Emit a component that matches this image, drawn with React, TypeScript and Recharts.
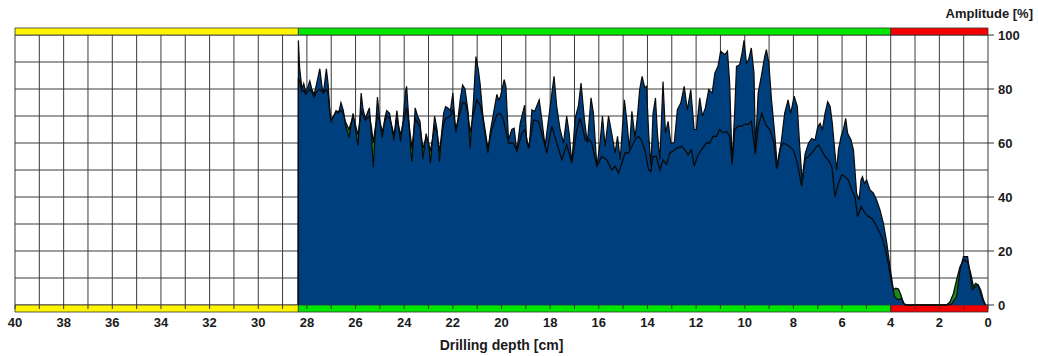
import { ComposedChart, Area, Line, XAxis, YAxis, CartesianGrid, ReferenceArea } from "recharts"

// drilling amplitude (blue), depth in cm
const ampDepth = [
  28.36, 28.35, 28.3, 28.25, 28.2, 28.13, 28.05, 27.95, 27.88, 27.8, 27.7, 27.6, 27.53, 27.47, 27.38, 27.32, 27.2, 27.13,
  27.05, 27.0, 26.9, 26.8, 26.7, 26.6, 26.5, 26.42, 26.33, 26.27, 26.2, 26.1, 26.0, 25.9, 25.82, 25.77, 25.7, 25.6, 25.5,
  25.43, 25.35, 25.27, 25.2, 25.1, 25.0, 24.9, 24.8, 24.72, 24.6, 24.5, 24.42, 24.35, 24.3, 24.2, 24.15, 24.05, 23.95,
  23.9, 23.82, 23.72, 23.68, 23.6, 23.55, 23.45, 23.35, 23.28, 23.23, 23.15, 23.1, 23.0, 22.92, 22.85, 22.75, 22.65,
  22.55, 22.48, 22.38, 22.3, 22.2, 22.1, 22.0, 21.88, 21.8, 21.7, 21.6, 21.5, 21.38, 21.29, 21.15, 21.05, 20.95, 20.88,
  20.74, 20.56, 20.47, 20.33, 20.19, 20.12, 20.05, 19.89, 19.82, 19.71, 19.58, 19.48, 19.37, 19.23, 19.05, 18.96, 18.86,
  18.75, 18.64, 18.45, 18.34, 18.21, 18.07, 17.84, 17.73, 17.59, 17.45, 17.32, 17.22, 17.11, 16.97, 16.84, 16.73, 16.59,
  16.47, 16.32, 16.22, 16.08, 15.95, 15.85, 15.74, 15.6, 15.47, 15.33, 15.23, 15.12, 14.95, 14.85, 14.74, 14.64, 14.51,
  14.41, 14.32, 14.22, 14.11, 14.04, 13.95, 13.86, 13.77, 13.67, 13.59, 13.49, 13.36, 13.26, 13.15, 13.04, 12.9, 12.77,
  12.63, 12.49, 12.36, 12.22, 12.08, 11.99, 11.85, 11.74, 11.62, 11.48, 11.34, 11.23, 11.1, 10.99, 10.82, 10.71, 10.62,
  10.52, 10.41, 10.34, 10.21, 10.11, 10.03, 9.93, 9.84, 9.73, 9.62, 9.56, 9.45, 9.32, 9.18, 9.11, 9.01, 8.9, 8.77, 8.66,
  8.49, 8.36, 8.22, 8.11, 7.97, 7.84, 7.74, 7.64, 7.52, 7.38, 7.25, 7.11, 7.0, 6.9, 6.81, 6.7, 6.59, 6.49, 6.4, 6.29,
  6.22, 6.15, 6.04, 5.95, 5.85, 5.77, 5.63, 5.53, 5.4, 5.3, 5.22, 5.16, 5.08, 4.99, 4.85, 4.71, 4.58, 4.44, 4.3, 4.16,
  4.03, 3.93, 3.85, 3.68, 3.55, 3.44, 3.34, 1.63, 1.49, 1.29, 1.15, 1.01, 0.84, 0.74, 0.64, 0.53, 0.42, 0.33, 0.19, 0.1,
]
const ampValues = [
  0, 98, 88, 84, 80, 82, 79, 81, 83, 80, 78, 82, 85, 87.5, 81, 78.5, 87.5, 82,
  71, 68, 70, 72, 71, 75, 72, 67, 64, 62, 66, 71, 65, 59, 70, 78.5, 73, 69, 71.5,
  73, 63, 51, 62, 77, 68, 62, 69, 72, 71, 65, 61, 68, 72, 64, 60.5, 68, 79,
  81, 70, 56, 53, 65, 73, 70, 68, 60, 54, 60, 63.5, 60, 52.5, 60, 70, 65,
  53, 62, 71, 73.5, 73, 72, 78.5, 64, 68, 76, 81.5, 80, 72, 58, 76, 92, 87, 82,
  67.4, 56.3, 63.7, 71, 78, 76, 77, 83.5, 81, 61, 65, 65.5, 57, 67.4, 74, 60, 58.8,
  72.3, 71.7, 76, 68.6, 58.8, 68.6, 84.7, 73.6, 65, 60, 70, 63.7, 52.6, 69.3, 73.6, 82.2, 68.6,
  60, 76.7, 71, 51.4, 60, 70, 58.8, 70, 63.7, 56.3, 62.5, 53.8, 76, 68.6, 57.5, 71.7, 62,
  70, 79.8, 84.7, 80.4, 81, 63.7, 51.4, 71, 76.7, 63.7, 53.8, 82.8, 63.7, 68, 60, 60, 72.3,
  74.8, 81, 72.3, 79.8, 65, 65, 76.7, 70, 73, 79.8, 78.5, 85.9, 88.4, 94, 92.7, 94, 82.2,
  52.6, 72.3, 88.4, 89, 93.3, 98, 89.6, 90.9, 95.2, 85.9, 58, 78.5, 84.7, 92, 94.6, 89.6, 76, 63.7, 51,
  61.2, 71, 76, 71, 77.3, 73.6, 58.8, 45.8, 56, 59.9, 61.7, 61.1, 66, 67.3, 64.8, 71, 75.3, 73.5, 67.3, 56.2,
  50, 57.4, 62.4, 64.8, 69.1, 63.6, 61.1, 57.4, 41.4, 38.9, 46.3, 47.5, 45, 46.3, 42.6, 41.4, 38.9, 35.2, 30.2, 22.9,
  14.2, 8, 3.1, 1.9, 2.5, 0.4, 0, 0, 0.4, 3.1, 13, 17.9, 17.9, 11.7, 5.6, 6.8, 7.4, 5, 1.2, 0,
]

// feed curve (green fill + black line)
const feedDepth = [
  28.36, 28.35, 28.3, 28.25, 28.2, 28.13, 28.05, 27.95, 27.88, 27.8, 27.7, 27.6, 27.47, 27.32, 27.2, 27.13, 27.05, 27.0,
  26.9, 26.8, 26.6, 26.5, 26.42, 26.27, 26.1, 26.0, 25.9, 25.82, 25.77, 25.7, 25.6, 25.43, 25.35, 25.27, 25.2, 25.1,
  25.0, 24.9, 24.8, 24.72, 24.6, 24.5, 24.42, 24.3, 24.15, 24.05, 23.9, 23.82, 23.68, 23.55, 23.35, 23.23, 23.1, 23.0,
  22.92, 22.75, 22.65, 22.55, 22.38, 22.3, 22.1, 22.0, 21.88, 21.8, 21.6, 21.49, 21.38, 21.29, 21.15, 21.01, 20.88,
  20.74, 20.56, 20.4, 20.19, 20.05, 19.92, 19.71, 19.51, 19.37, 19.16, 19.03, 18.89, 18.68, 18.48, 18.27, 18.14, 17.93,
  17.73, 17.52, 17.32, 17.11, 16.9, 16.77, 16.56, 16.4, 16.29, 16.08, 15.88, 15.67, 15.47, 15.33, 15.19, 15.05, 14.92,
  14.78, 14.64, 14.51, 14.38, 14.25, 14.11, 13.95, 13.86, 13.77, 13.63, 13.49, 13.36, 13.22, 13.08, 12.95, 12.81, 12.6,
  12.47, 12.33, 12.19, 12.08, 11.92, 11.78, 11.58, 11.44, 11.3, 11.16, 11.03, 10.89, 10.75, 10.62, 10.52, 10.41, 10.27,
  10.14, 10.0, 9.86, 9.73, 9.56, 9.45, 9.3, 9.15, 8.96, 8.8, 8.69, 8.55, 8.41, 8.2, 8.0, 7.85, 7.66, 7.52, 7.38, 7.25,
  7.11, 6.97, 6.84, 6.7, 6.56, 6.42, 6.29, 6.15, 6.01, 5.88, 5.74, 5.6, 5.47, 5.36, 5.22, 5.05, 4.92, 4.78, 4.64, 4.51,
  4.37, 4.23, 4.1, 3.99, 3.89, 3.79, 3.68, 3.58, 3.48, 3.38, 1.7, 1.56, 1.42, 1.29, 1.15, 1.01, 0.84, 0.71, 0.6, 0.51,
  0.4, 0.3, 0.19, 0.1,
]
const feedValues = [
  0, 84, 83, 81, 79, 79.5, 78, 79, 80, 79, 77, 79, 80, 78.5, 80, 78.5, 71, 68.5,
  70, 71.5, 72, 71, 68, 65, 70, 66.5, 63, 68, 72, 70.5, 68.5, 70, 66, 60, 65, 70,
  68, 64, 68, 70, 69.5, 66, 63, 69, 63, 67, 73, 68, 58, 69, 66, 58, 62, 60,
  57, 66, 64, 57, 67, 69, 70, 72.5, 65, 68, 75, 74.8, 71, 63.7, 71, 76, 74,
  68.6, 58, 65, 70.5, 71, 68.6, 60, 60, 57, 63.7, 65, 58, 68.6, 68, 61.2, 56.3, 66.2,
  60, 53.8, 59.4, 52.6, 65, 69.3, 61.2, 61.2, 60, 51.4, 55, 53.8, 50, 51.4, 48.9, 52.6, 56.3,
  56.3, 58.8, 61.2, 62.5, 61.2, 57.5, 50, 49.5, 55, 55, 50, 53.8, 52, 56.3, 57, 58, 58.8,
  57.5, 55.6, 57.5, 51.4, 55.6, 57.5, 60, 60, 62.5, 62.5, 65, 63.7, 64.3, 62.5, 52, 65, 66.2,
  66.2, 67, 66.8, 68, 56, 66, 71, 67, 64.8, 60, 50.5, 58, 60, 59, 57.4, 53, 44, 54, 55, 56.2,
  58, 59.3, 57.4, 55, 53.7, 51.2, 40.1, 45, 48.2, 47.5, 46.3, 42.6, 40.1, 32.7, 36.4, 34, 32.7, 32.1, 30.2, 27.8,
  25.3, 21, 15.4, 9.3, 5.6, 6.2, 5.9, 3.7, 0.6, 0, 0, 1.2, 4.3, 9.3, 14.2, 16.7, 16, 11.7, 6.8, 8,
  7.4, 5.6, 1.9, 0,
]

const xTicks = [
  0, 1, 2, 3, 4, 5, 6, 7, 8, 9, 10, 11, 12, 13, 14, 15, 16, 17, 18, 19, 20,
  21, 22, 23, 24, 25, 26, 27, 28, 29, 30, 31, 32, 33, 34, 35, 36, 37, 38, 39, 40,
]
const yTicks = [0, 10, 20, 30, 40, 50, 60, 70, 80, 90, 100]

// coloured zone bands above and below the plot
const zoneFrom = [40, 28.35, 4]
const zoneTo = [28.35, 4, 0]
const zoneColors = ["#fff500", "#00e800", "#f50000"]

const FONT = "'Liberation Sans', Arial, sans-serif"

type Row = { d: number; amp: number | null; feed: number | null }

const byDepth = new Map<number, Row>()
ampDepth.forEach((d, i) => {
  byDepth.set(d, { d, amp: ampValues[i], feed: null })
})
feedDepth.forEach((d, i) => {
  const r = byDepth.get(d)
  if (r) r.feed = feedValues[i]
  else byDepth.set(d, { d, amp: null, feed: feedValues[i] })
})
const data = Array.from(byDepth.values()).sort((a, b) => b.d - a.d)

function DepthTick(props: any) {
  const { x, y, payload } = props
  const v = payload.value as number
  return (
    <g>
      <line x1={x} x2={x} y1={y} y2={y + 4} stroke="#333" strokeWidth={1} />
      {v % 2 === 0 && (
        <text x={x} y={y + 21.5} textAnchor="middle" fontSize={13} fontWeight="bold" fill="#1a1a1a" fontFamily={FONT}>
          {v}
        </text>
      )}
    </g>
  )
}

function AmpTick(props: any) {
  const { x, y, payload } = props
  const v = payload.value as number
  if (v % 20 !== 0) return <g />
  return (
    <g>
      <line x1={x} x2={x + 6} y1={y} y2={y} stroke="#333" strokeWidth={1} />
      <text x={x + 10} y={y + 4.6} textAnchor="start" fontSize={13} fontWeight="bold" fill="#1a1a1a" fontFamily={FONT}>
        {v}
      </text>
    </g>
  )
}

export default function App() {
  return (
    <div style={{ position: "absolute", left: 0, top: 0, width: 1038, height: 356, background: "#fff" }}>
      <ComposedChart width={1038} height={356} data={data} margin={{ top: 35, right: 5, bottom: 0, left: 15 }}>
        <CartesianGrid stroke="#3a3a3a" strokeWidth={1} />
        <XAxis
          type="number"
          dataKey="d"
          domain={[0, 40]}
          reversed
          ticks={xTicks}
          interval={0}
          allowDataOverflow
          height={51}
          axisLine={false}
          tickLine={false}
          tickSize={0}
          tickMargin={0}
          tick={<DepthTick />}
        />
        <YAxis
          orientation="right"
          domain={[0, 100]}
          ticks={yTicks}
          interval={0}
          width={45}
          axisLine={false}
          tickLine={false}
          tickSize={0}
          tickMargin={0}
          tick={<AmpTick />}
        />
        {zoneColors.map((c, i) => (
          <ReferenceArea
            key={"top" + i}
            x1={zoneFrom[i]}
            x2={zoneTo[i]}
            y1={100}
            y2={102.6}
            ifOverflow="visible"
            fill={c}
            fillOpacity={1}
            stroke="#333"
            strokeWidth={0.8}
          />
        ))}
        {zoneColors.map((c, i) => (
          <ReferenceArea
            key={"bot" + i}
            x1={zoneFrom[i]}
            x2={zoneTo[i]}
            y1={-2.6}
            y2={0}
            ifOverflow="visible"
            fill={c}
            fillOpacity={1}
            stroke="#333"
            strokeWidth={0.8}
          />
        ))}
        <Area
          type="linear"
          dataKey="feed"
          fill="#1a8a1a"
          fillOpacity={1}
          stroke="none"
          connectNulls
          isAnimationActive={false}
        />
        <Area
          type="linear"
          dataKey="amp"
          fill="#003f7d"
          fillOpacity={1}
          stroke="#0a0a0a"
          strokeWidth={1.2}
          connectNulls
          isAnimationActive={false}
        />
        <Line
          type="linear"
          dataKey="feed"
          stroke="#0a0a0a"
          strokeWidth={1.3}
          dot={false}
          connectNulls
          isAnimationActive={false}
        />
      </ComposedChart>
      <div
        style={{
          position: "absolute",
          right: 5,
          top: 6,
          fontFamily: FONT,
          fontWeight: "bold",
          fontSize: 13,
          color: "#1a1a1a",
          whiteSpace: "nowrap",
        }}
      >
        Amplitude [%]
      </div>
      <div
        style={{
          position: "absolute",
          left: 0,
          width: 1003,
          top: 337,
          textAlign: "center",
          fontFamily: FONT,
          fontWeight: "bold",
          fontSize: 14,
          color: "#1a1a1a",
          whiteSpace: "nowrap",
        }}
      >
        Drilling depth [cm]
      </div>
    </div>
  )
}
